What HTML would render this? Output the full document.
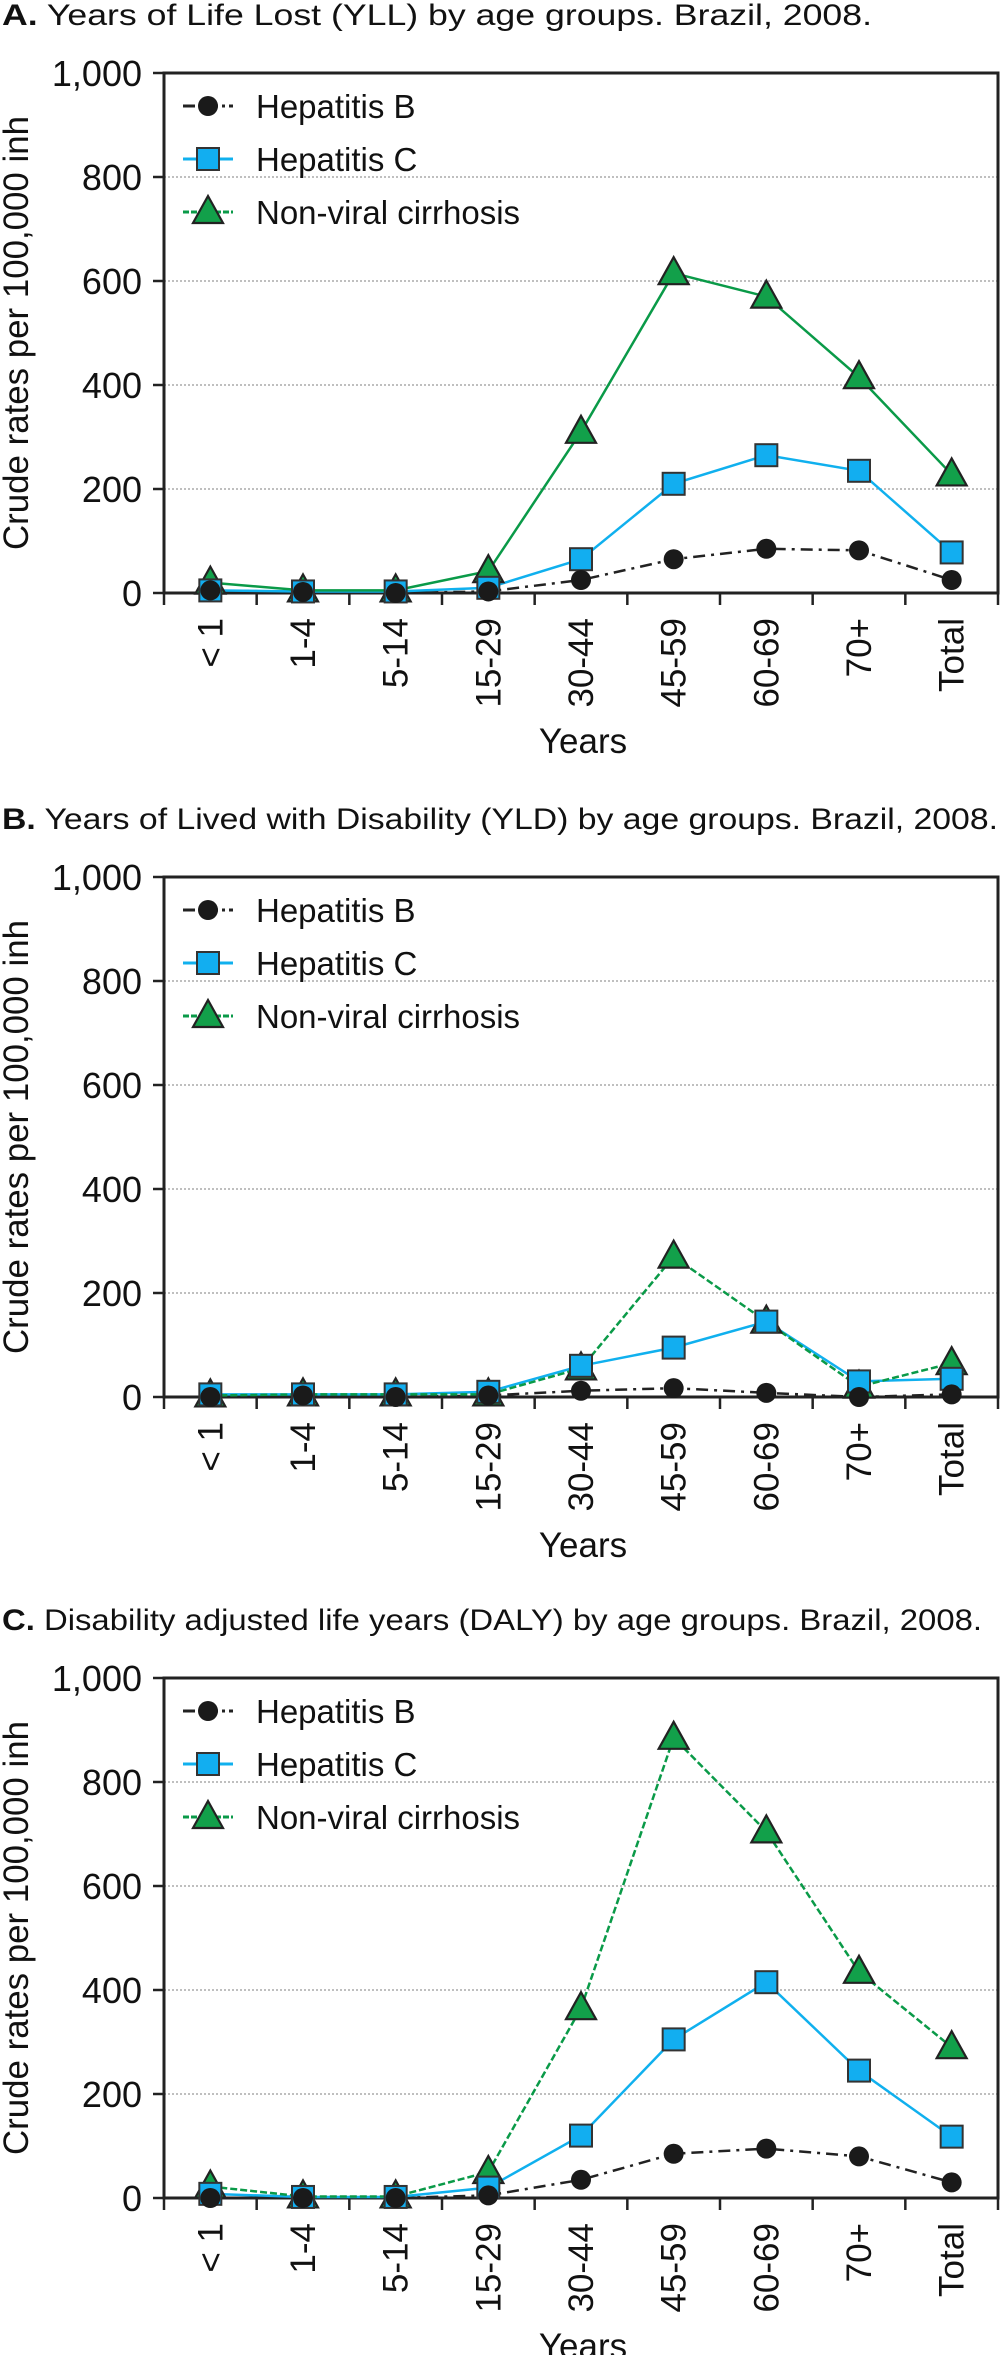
<!DOCTYPE html>
<html><head><meta charset="utf-8">
<style>
html,body{margin:0;padding:0;background:#fff;}
svg{display:block;font-family:"Liberation Sans",Arial,sans-serif;}
</style></head>
<body>
<svg id="fig" width="1001" height="2355" viewBox="0 0 1001 2355" xmlns="http://www.w3.org/2000/svg"></svg>
<script>
const categories = ["< 1","1-4","5-14","15-29","30-44","45-59","60-69","70+","Total"];
const yTicks = [0,200,400,600,800,1000];
const yTickLabels = ["0","200","400","600","800","1,000"];
const titles = ["Years of Life Lost (YLL) by age groups. Brazil, 2008.",
  "Years of Lived with Disability (YLD) by age groups. Brazil, 2008.",
  "Disability adjusted life years (DALY) by age groups. Brazil, 2008."];
const panelLetters = ["A.","B.","C."];
const yllHepB = [5,2,0,3,25,65,85,82,25];
const yllHepC = [5,3,3,10,65,210,265,235,78];
const yllCirr = [20,5,5,42,310,615,570,415,228];
const yldHepB = [0,3,0,3,12,17,8,0,5];
const yldHepC = [5,5,5,10,60,95,145,30,35];
const yldCirr = [3,5,5,5,55,270,145,20,65];
const dalyHepB = [0,0,0,5,35,85,95,80,30];
const dalyHepC = [8,2,2,20,120,305,415,245,118];
const dalyCirr = [22,3,3,50,365,885,705,435,290];

const NS="http://www.w3.org/2000/svg";
const svg=document.getElementById('fig');
function mk(tag,attrs,parent){const e=document.createElementNS(NS,tag);for(const k in attrs)e.setAttribute(k,attrs[k]);(parent||svg).appendChild(e);return e;}

const panels=[
  {top:73,name:'yll',b:yllHepB,c:yllHepC,n:yllCirr},
  {top:877,name:'yld',b:yldHepB,c:yldHepC,n:yldCirr},
  {top:1678,name:'daly',b:dalyHepB,c:dalyHepC,n:dalyCirr}];
const L=164,R=998,H=520,YMAX=1000;

panels.forEach((p,pi)=>{
  const g=mk('g',{});
  
  
  const bottom=p.top+H;
  const bw=(R-L)/categories.length;
  const x=i=>L+(i+0.5)*bw;
  const y=v=>bottom-v/YMAX*H;
  const t=mk('text',{x:2,y:p.top-48,'font-size':30,fill:'#111',textLength:(pi==0?870:(pi==1?996:980)),lengthAdjust:'spacingAndGlyphs'},g);
  
  
  const tb=mk('tspan',{'font-weight':'bold'},t);tb.textContent=panelLetters[pi];
  const tr=mk('tspan',{},t);tr.textContent=' '+titles[pi];
  yTicks.forEach((v,i)=>{
    if(v>0&&v<1000){const gl=mk('line',{x1:L,x2:R,y1:y(v),y2:y(v),stroke:'#aaa','stroke-width':1.5,'stroke-dasharray':'2,2'},g);
      
      }
    const tk=mk('line',{x1:L-11,x2:L,y1:y(v),y2:y(v),stroke:'#222','stroke-width':2.5},g);
    
    
    const tl=mk('text',{x:L-22,y:y(v)+13,'font-size':36,'text-anchor':'end',fill:'#111'},g);
    
    
    tl.textContent=yTickLabels[i];
  });
  const fr=mk('rect',{x:L,y:p.top,width:R-L,height:H,fill:'none',stroke:'#222','stroke-width':3},g);
  
  
  for(let i=0;i<=categories.length;i++){
    const xt=mk('line',{x1:L+i*bw,x2:L+i*bw,y1:bottom,y2:bottom+12,stroke:'#222','stroke-width':2.5},g);
    
    
  }
  categories.forEach((c,i)=>{
    const xl=mk('text',{transform:`translate(${x(i)+12},${bottom+25}) rotate(-90)`,'font-size':35,'text-anchor':'end',fill:'#111'},g);
    
    
    xl.textContent=c;
  });
  const xa=mk('text',{x:583,y:bottom+160,'font-size':35,'text-anchor':'middle',fill:'#111'},g);
  
  
  xa.textContent='Years';
  const ya=mk('text',{transform:`translate(28,${p.top+260}) rotate(-90)`,'font-size':35,'text-anchor':'middle',fill:'#111',textLength:434,lengthAdjust:'spacingAndGlyphs'},g);
  
  
  ya.textContent='Crude rates per 100,000 inh';
  const series=[
    {d:p.b,color:'#222',dash:'12,6,3,6',w:2.5,m:'circle',name:'hepatitis-b'},
    {d:p.c,color:'#10b0ee',dash:'',w:2.5,m:'square',name:'hepatitis-c'},
    {d:p.n,color:'#0a9a48',dash:pi==0?'':'7,3',w:2.5,m:'triangle',name:'non-viral-cirrhosis'}];
  function marker(type,cx,cy,par){
    let e;
    if(type=='circle') e=mk('circle',{cx:cx,cy:cy,r:10,fill:'#1a1a1a'},par);
    else if(type=='square') e=mk('rect',{x:cx-11,y:cy-11,width:22,height:22,fill:'#12aef0',stroke:'#333','stroke-width':2},par);
    else e=mk('polygon',{points:`${cx},${cy-16} ${cx+15},${cy+11} ${cx-15},${cy+11}`,fill:'#12a04a',stroke:'#222','stroke-width':2.2},par);
    return e;
  }
  series.forEach(s=>{
    const pl=mk('polyline',{points:s.d.map((v,i)=>x(i)+','+y(v)).join(' '),fill:'none',stroke:s.color,'stroke-width':s.w,'stroke-dasharray':s.dash},g);
    
    
  });
  [2,1,0].forEach(si=>{const s=series[si];
    s.d.forEach((v,i)=>{const m=marker(s.m,x(i),y(v),g);
      
      });
  });
  const legendLabels=['Hepatitis B','Hepatitis C','Non-viral cirrhosis'];
  series.forEach((s,i)=>{
    const ly=p.top+33+i*53;
    const lg=mk('g',{},g);
    
    
    mk('line',{x1:183,x2:233,y1:ly,y2:ly,stroke:s.color,'stroke-width':3,'stroke-dasharray':s.m=='circle'?'12,4,3,4':(s.m=='triangle'?'6,2':'')},lg);
    marker(s.m,208,ly,lg);
    const lt=mk('text',{x:256,y:ly+12,'font-size':33,fill:'#111'},lg);
    lt.textContent=legendLabels[i];
  });
});
</script>
</body></html>
